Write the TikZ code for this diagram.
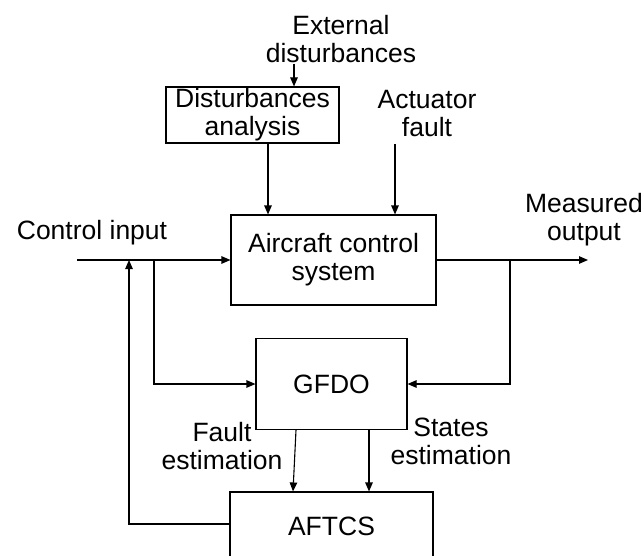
\documentclass[tikz,border=0pt]{standalone}
\usepackage{fontspec}
\setmainfont{Liberation Sans}
\usetikzlibrary{arrows.meta,positioning}

\begin{document}
\begin{tikzpicture}[x=1pt,y=-1pt,
      blk/.style={draw,line width=1.1pt,inner sep=0pt,align=center,
        font=\fontsize{26.5}{28}\selectfont},
      lbl/.style={inner sep=0pt,align=center,font=\fontsize{26.5}{28}\selectfont},
      arr/.style={-{Triangle[length=9pt,width=7.5pt]},line width=1.1pt}
    ]
      \useasboundingbox (0,0) rectangle (642,556);
      \node[blk,minimum width=173,minimum height=56] (dist) at (252.5,115) {Disturbances\\analysis};
      \node[blk,minimum width=205,minimum height=90] (acs) at (333.5,260) {Aircraft control\\system};
      \node[blk,minimum width=151,minimum height=91] (gfdo) at (331.5,384) {GFDO};
      \node[blk,minimum width=203,minimum height=68] (aftcs) at (331.5,526) {AFTCS};
      \node[lbl] (ext) at (341,39) {External\\disturbances};
      \node[lbl] (act) at (427,114) {Actuator\\fault};
      \node[lbl] (cin) at (92,233) {Control input};
      \node[lbl] (mout) at (584,220) {Measured\\output};
      \node[lbl] (fest) at (222,446) {Fault\\estimation};
      \node[lbl] (sest) at (451,441) {States\\estimation};
      \coordinate (e1) at (294,64);
      \coordinate (a1) at (395,144);
      \coordinate (in) at (77,260);
      \coordinate (out) at (588,260);
      \coordinate (t1) at (154,260);
      \coordinate (t2) at (510,260);
      \coordinate (fb) at (129,260);
      \draw[arr] (e1) -- (e1 |- dist.north);
      \draw[arr] ([xshift=15.5pt]dist.south) -- ([xshift=15.5pt]dist.south |- acs.north);
      \draw[arr] (a1) -- (a1 |- acs.north);
      \draw[arr] (in) -- (acs.west);
      \draw[arr] (acs.east) -- (out);
      \draw[arr] (t1) |- (gfdo.west);
      \draw[arr] (t2) |- (gfdo.east);
      \draw[arr] ([xshift=-35.5pt]gfdo.south) -- ([xshift=-38.5pt]aftcs.north);
      \draw[arr] ([xshift=37.5pt]gfdo.south) -- ([xshift=37.5pt]aftcs.north);
      \draw[arr] ([yshift=2pt]aftcs.west) -| (fb);
    \end{tikzpicture}
\end{document}
